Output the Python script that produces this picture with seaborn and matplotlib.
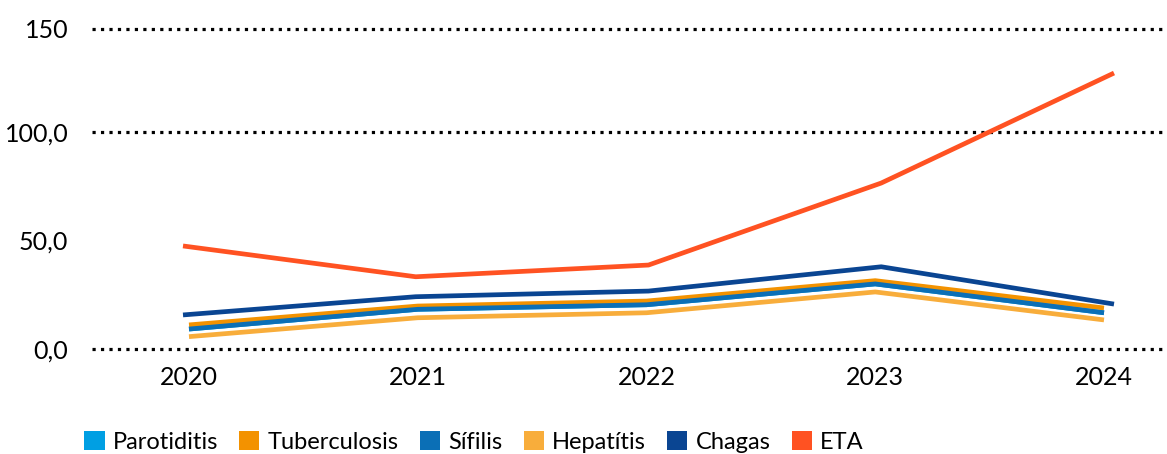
import numpy as np
import pandas as pd
import seaborn as sns
import matplotlib.pyplot as plt
from matplotlib.patches import Patch

# Tasa por año (valores por enfermedad)
years = ["2020", "2021", "2022", "2023", "2024"]
parotiditis = [9.2, 18.3, 20.4, 30.0, 16.7]
tuberculosis = [11.1, 19.8, 22.1, 31.5, 18.9]
sifilis = [9.2, 18.3, 20.4, 30.0, 16.7]
hepatitis = [5.7, 14.4, 16.7, 26.3, 13.4]
chagas = [15.7, 24.1, 26.7, 37.9, 20.7]
eta = [47.5, 33.3, 38.7, 76.5, 127.2]

series_names = ["Parotiditis", "Tuberculosis", "Sífilis", "Hepatítis", "Chagas", "ETA"]
series_values = [parotiditis, tuberculosis, sifilis, hepatitis, chagas, eta]
colors = {
    "Parotiditis": "#009FE3",
    "Tuberculosis": "#F39200",
    "Sífilis": "#0B6FB6",
    "Hepatítis": "#F8AD3B",
    "Chagas": "#0A4592",
    "ETA": "#FF5222",
}

y_ticks = [0, 50, 100, 147.5]
y_tick_labels = ["0,0", "50,0", "100,0", "150"]
grid_levels = [0, 100, 147.5]

sns.set_theme(style="white")
plt.rcParams["font.family"] = ["Lato", "DejaVu Sans"]
plt.rcParams["lines.solid_capstyle"] = "butt"

rows = []
for name, vals in zip(series_names, series_values):
    for i, v in enumerate(vals):
        rows.append({"pos": i, "anio": years[i], "serie": name, "valor": v})
df = pd.DataFrame(rows)

group_b = ["Parotiditis", "Tuberculosis", "Sífilis", "Hepatítis"]
group_a = ["Chagas", "ETA"]

fig = plt.figure(figsize=(11.67, 4.54), dpi=100)
ax = fig.add_axes([92 / 1167, 1 - 349 / 454, 1 - 92 / 1167, (349 - 29) / 454])

for lvl in grid_levels:
    ax.axhline(lvl, color="black", linewidth=2.3, linestyle=(0, (1, 1.65)),
               dash_capstyle="butt", zorder=0, clip_on=False, snap=True)

sns.lineplot(data=df[df["serie"].isin(group_b)], x="pos", y="valor", hue="serie",
             hue_order=group_b, palette=colors, linewidth=3.4, legend=False,
             ax=ax, sort=False)

ax.set_xlim((92 - 189) / 228.75, (1167 - 189) / 228.75)
ax.set_ylim(0, 147.5)
ax.set_xticks(range(len(years)), years)
ax.set_yticks(y_ticks, y_tick_labels)
ax.tick_params(axis="x", length=0, pad=12, labelsize=18, colors="black")
ax.tick_params(axis="y", length=0, pad=17, labelsize=18, colors="black")
ax.set_xlabel("")
ax.set_ylabel("")
for s in ax.spines.values():
    s.set_visible(False)

ax2 = ax.twiny()
sns.lineplot(data=df[df["serie"].isin(group_a)], x="pos", y="valor", hue="serie",
             hue_order=group_a, palette=colors, linewidth=3.4, legend=False,
             ax=ax2, sort=False)
ax2.set_xlim((92 - 183) / 232.75, (1167 - 183) / 232.75)
ax2.set_ylim(0, 147.5)
ax2.axis("off")

handles = [Patch(facecolor=colors[n], edgecolor="none", label=n) for n in series_names]
leg = fig.legend(handles=handles, loc="center", bbox_to_anchor=(474 / 1167, 1 - 442 / 454),
                 ncol=6, frameon=False, handlelength=0.85, handleheight=0.85,
                 handletextpad=0.35, columnspacing=0.9, borderaxespad=0, borderpad=0,
                 prop={"family": ["Lato", "DejaVu Sans"], "size": 17})
for t in leg.get_texts():
    t.set_color("black")

fig.savefig("out.png", dpi=100)
